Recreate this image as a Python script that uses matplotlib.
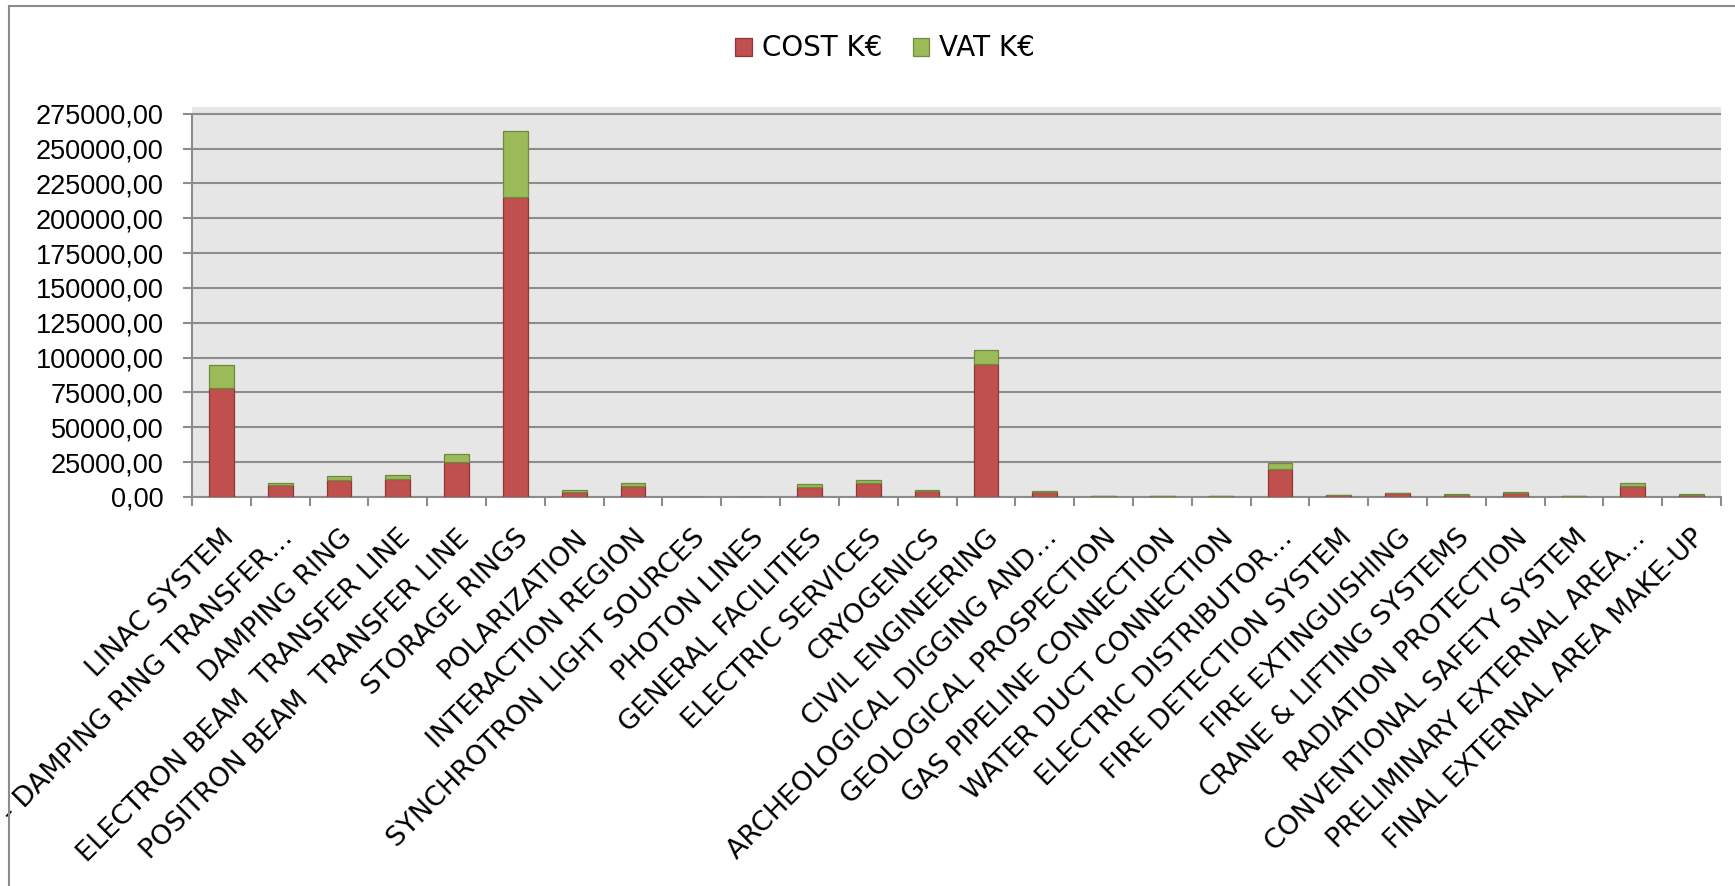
import numpy as np
import matplotlib
matplotlib.use("Agg")
import matplotlib.pyplot as plt
from matplotlib.ticker import FuncFormatter, FixedLocator
from matplotlib.lines import Line2D

plt.rcParams["font.family"] = ["DejaVu Sans"]

# chart data (K€)
categories = [
    "LINAC SYSTEM", "- DAMPING RING TRANSFER\u2026", "DAMPING RING",
    "ELECTRON BEAM  TRANSFER LINE", "POSITRON BEAM  TRANSFER LINE",
    "STORAGE RINGS", "POLARIZATION", "INTERACTION REGION",
    "SYNCHROTRON LIGHT SOURCES", "PHOTON LINES", "GENERAL FACILITIES",
    "ELECTRIC SERVICES", "CRYOGENICS", "CIVIL ENGINEERING",
    "ARCHEOLOGICAL DIGGING AND\u2026", "GEOLOGICAL PROSPECTION",
    "GAS PIPELINE CONNECTION", "WATER DUCT CONNECTION",
    "ELECTRIC DISTRIBUTOR\u2026", "FIRE DETECTION SYSTEM",
    "FIRE EXTINGUISHING", "CRANE & LIFTING SYSTEMS", "RADIATION PROTECTION",
    "CONVENTIONAL SAFETY SYSTEM", "PRELIMINARY EXTERNAL AREA\u2026",
    "FINAL EXTERNAL AREA MAKE-UP",
]
cost = [78000, 8400, 12200, 13000, 25200, 215000, 3900, 8100, 0, 0,
        7500, 10000, 4100, 95200, 3400, 700, 650, 650, 20300, 1300,
        2600, 1700, 2900, 750, 8000, 1500]
vat = [17000, 1850, 2700, 2860, 5540, 47300, 860, 1780, 0, 0,
       1650, 2200, 900, 10000, 750, 150, 140, 140, 4400, 290,
       580, 380, 640, 170, 1760, 330]
yticks = np.arange(0, 275001, 25000)

RED, RED_EDGE = "#C0504D", "#8C3836"
GREEN, GREEN_EDGE = "#9BBB59", "#71893F"
GRID = "#8C8C8C"

W, H = 1735, 886
fig = plt.figure(figsize=(W / 100, H / 100), dpi=100)
ax = fig.add_axes([192 / W, 1 - 497 / H, (1721 - 192) / W, (497 - 107) / H])
ax.set_facecolor("#E6E6E6")

x = np.arange(len(categories))
ax.bar(x, cost, width=0.42, color=RED, edgecolor=RED_EDGE, linewidth=0.9,
       label="COST K\u20ac", zorder=3)
ax.bar(x, vat, width=0.42, bottom=cost, color=GREEN, edgecolor=GREEN_EDGE,
       linewidth=0.9, label="VAT K\u20ac", zorder=3)

ax.set_xlim(-0.5, len(categories) - 0.5)
ax.set_ylim(0, 279800)
ax.set_yticks(yticks)
ax.yaxis.set_major_formatter(FuncFormatter(lambda v, p: f"{v:.2f}".replace(".", ",")))
ax.yaxis.grid(True, color=GRID, linewidth=1.5, zorder=1)
ax.set_axisbelow(True)

for s in ["top", "right"]:
    ax.spines[s].set_visible(False)
for s in ["left", "bottom"]:
    ax.spines[s].set_color(GRID)
    ax.spines[s].set_linewidth(1.5)
ax.spines["left"].set_bounds(0, 275000)

ax.tick_params(axis="y", direction="out", length=6.5, width=1.5, color=GRID,
               pad=14, labelsize=19.5)
for t in ax.get_yticklabels():
    t.set_fontfamily(["Liberation Sans"])

# category labels at centres, tick marks at the boundaries
ax.set_xticks(x)
ax.set_xticklabels(categories, rotation=45, ha="right", va="top",
                   rotation_mode="anchor", fontsize=19.5)
for t in ax.get_xticklabels():
    t.set_fontfamily(["DejaVu Sans"])
ax.xaxis.set_minor_locator(FixedLocator(np.arange(-0.5, len(categories), 1.0)))
ax.tick_params(axis="x", which="major", length=0, pad=20)
ax.tick_params(axis="x", which="minor", direction="out", length=6.7, width=1.5, color=GRID)

fig.legend(loc="center", bbox_to_anchor=(885 / W, 1 - 48.5 / H), ncol=2,
           frameon=False, prop={"family": ["DejaVu Sans"], "size": 20},
           handlelength=0.6, handleheight=0.6,
           handletextpad=0.35, columnspacing=1.1)

# outer chart frame (left and top edges visible)
fig.add_artist(Line2D([8.5 / W, 8.5 / W], [0, 1 - 6 / H], transform=fig.transFigure,
                      color=GRID, linewidth=1.5))
fig.add_artist(Line2D([8.5 / W, 1], [1 - 6 / H, 1 - 6 / H], transform=fig.transFigure,
                      color=GRID, linewidth=1.5))

fig.savefig("out.png", dpi=100)
